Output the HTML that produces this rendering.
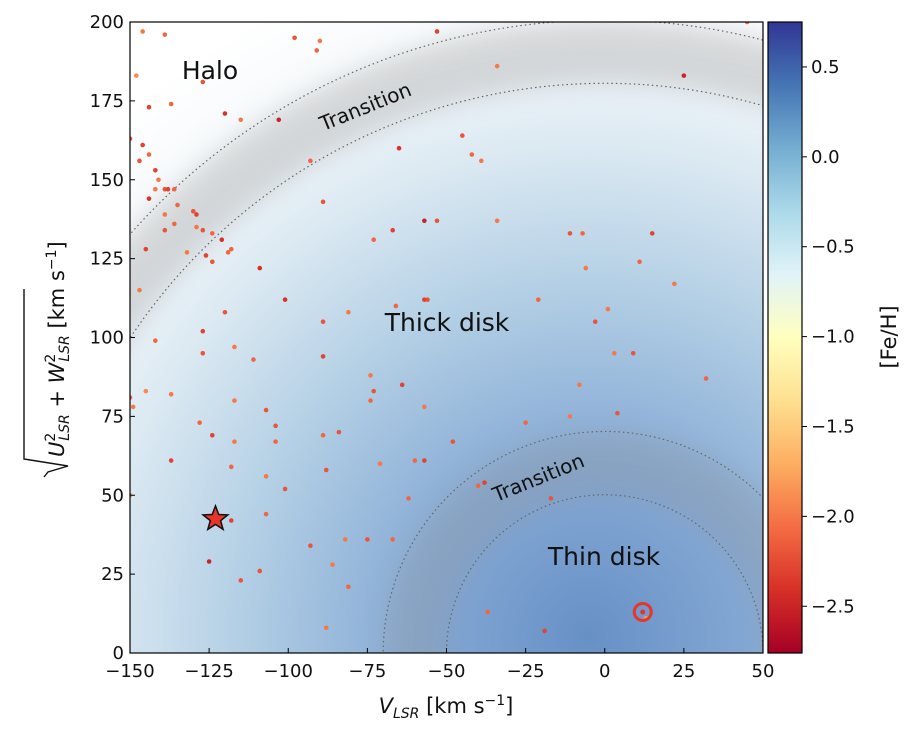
<!DOCTYPE html>
<html><head><meta charset="utf-8"><style>
html,body{margin:0;padding:0;background:#fff;width:916px;height:744px;overflow:hidden;}
svg{display:block;font-family:"DejaVu Sans","Liberation Sans",sans-serif;}
</style></head><body>
<svg id="chart" width="916" height="744" viewBox="0 0 916 744">
<defs>
 <clipPath id="plotclip"><rect x="130" y="22" width="633" height="631"/></clipPath>
 <radialGradient id="cloud" gradientUnits="userSpaceOnUse" cx="589" cy="637" r="700">
  <stop offset="0" stop-color="#6790c6"/>
  <stop offset="0.25" stop-color="#86aad5"/>
  <stop offset="0.5" stop-color="#b3cfe5"/>
  <stop offset="0.7" stop-color="#dbe9f2"/>
  <stop offset="0.85" stop-color="#f4f8fb"/>
  <stop offset="1" stop-color="#ffffff"/>
 </radialGradient>
 <linearGradient id="cbar" x1="0" y1="1" x2="0" y2="0">
  <stop offset="0" stop-color="#a50026"/>
  <stop offset="0.1" stop-color="#d73027"/>
  <stop offset="0.2" stop-color="#f46d43"/>
  <stop offset="0.3" stop-color="#fdae61"/>
  <stop offset="0.4" stop-color="#fee090"/>
  <stop offset="0.5" stop-color="#ffffbf"/>
  <stop offset="0.6" stop-color="#e0f3f8"/>
  <stop offset="0.7" stop-color="#abd9e9"/>
  <stop offset="0.8" stop-color="#74add1"/>
  <stop offset="0.9" stop-color="#4575b4"/>
  <stop offset="1" stop-color="#313695"/>
 </linearGradient>
 <filter id="blur" x="-20%" y="-20%" width="140%" height="140%"><feGaussianBlur stdDeviation="12"/></filter>
</defs>
<g id="plot" clip-path="url(#plotclip)"></g>
<g id="axes"></g>
</svg>
<script>
const xTicks=[-150,-125,-100,-75,-50,-25,0,25,50];
const yTicks=[0,25,50,75,100,125,150,175,200];
const cbTicks=[0.5,0.0,-0.5,-1.0,-1.5,-2.0,-2.5];
const cbLabels=["0.5","0.0","\u22120.5","\u22121.0","\u22121.5","\u22122.0","\u22122.5"];
const ringRadii=[50,70,180,200];
const ptV=[-146,-139,-98,-90,-53,-91,-34,-148,-127,-144,-137,-120,-115,-103,-45,-42,-39,-65,-93,-150,-146,-144,-147,-142,-141,-139,-138,-136,-142,-144,-135,-130,-129,-129,-127,-124,-121,-118,-132,-126,-124,-119,-139,-139,-136,-145,-147,-109,-89,-73,-67,-57,-53,-34,-7,-11,-6,15,11,22,-56,-57,-66,-89,-81,-21,-3,1,-101,-120,-142,-127,-117,-127,-111,-89,-74,-73,-74,-64,-57,-84,-89,-117,-107,-128,-124,-117,-104,-104,-145,-137,-150,-149,-137,-118,-88,-71,-60,-57,-48,-25,3,9,32,-8,4,-40,-38,-101,-107,-107,-93,-82,-75,-67,-118,-109,-81,-125,-62,-17,-19,-37,-88,-115,-86,45,25,13,-11,-150];
const ptY=[197,196,195,194,197,191,186,183,181,173,174,171,169,169,164,158,156,160,156,163,161,158,156,153,150,147,147,147,147,144,142,140,139,135,134,133,131,128,127,126,124,127,139,134,136,128,115,122,143,131,134,137,137,137,133,133,122,133,124,117,112,112,110,105,108,112,105,109,112,108,99,102,97,95,93,94,88,83,80,85,78,70,69,80,77,73,69,67,72,67,83,82,81,78,61,59,58,60,61,61,67,73,95,95,87,85,76,53,54,52,56,44,34,36,36,36,42,26,21,29,49,49,7,13,8,23,28,200,183,11,75,50];
const ptFe=[-2.0,-2.1,-2.2,-2.0,-2.3,-2.1,-2.0,-1.9,-2.2,-2.3,-2.1,-2.4,-2.0,-2.5,-2.2,-2.1,-2.0,-2.4,-2.1,-2.2,-2.3,-2.1,-2.2,-2.3,-2.0,-2.2,-2.3,-2.1,-2.0,-2.4,-2.1,-2.2,-2.3,-2.0,-2.2,-2.1,-2.4,-2.1,-2.0,-2.3,-2.2,-2.1,-2.0,-2.2,-2.1,-2.3,-2.0,-2.4,-2.2,-2.1,-2.3,-2.5,-2.2,-2.0,-2.1,-2.2,-2.0,-2.3,-2.1,-2.0,-2.2,-2.3,-2.1,-2.2,-2.0,-2.1,-2.2,-2.0,-2.4,-2.2,-2.1,-2.3,-2.0,-2.2,-2.1,-2.3,-2.0,-2.2,-2.1,-2.3,-2.0,-2.2,-2.1,-2.0,-2.2,-2.1,-2.3,-2.0,-2.2,-2.1,-1.9,-2.0,-2.1,-2.0,-2.3,-2.1,-2.2,-2.0,-2.1,-2.3,-2.2,-2.1,-2.0,-2.2,-2.1,-2.0,-2.2,-2.1,-2.3,-2.2,-2.0,-2.1,-2.2,-2.0,-2.2,-2.1,-2.3,-2.2,-2.1,-2.5,-2.1,-2.2,-2.3,-2.1,-2.0,-2.2,-2.0,-2.1,-2.5,-1.8,-2.0,-1.9];
const starV=-123, starY=42.5;
const sunV=12, sunY=13;

const X0=130,X1=763,Y0=653,Y1=22;
const sx=v=>X0+(v+150)/200*(X1-X0);
const sy=u=>Y0-u/200*(Y0-Y1);
const cbTop=22,cbBot=653,cbMax=0.75,cbMin=-2.76;
const cy=f=>cbBot-(f-cbMin)/(cbMax-cbMin)*(cbBot-cbTop);
const NS="http://www.w3.org/2000/svg";
function mk(tag,attrs,parent){const e=document.createElementNS(NS,tag);for(const k in attrs)e.setAttribute(k,attrs[k]);parent.appendChild(e);return e;}
const stops=[[-2.76,[165,0,38]],[-2.41,[215,48,39]],[-2.06,[244,109,67]],[-1.70,[253,174,97]],[-1.35,[254,224,144]],[-1.0,[255,255,191]],[-0.65,[224,243,248]],[-0.30,[171,217,233]],[0.05,[116,173,209]],[0.40,[69,117,180]],[0.75,[49,54,149]]];
function col(f){for(let i=0;i<stops.length-1;i++){const a=stops[i],b=stops[i+1];if(f<=b[0]){const t=Math.max(0,(f-a[0])/(b[0]-a[0]));const c=a[1].map((v,j)=>Math.round(v+(b[1][j]-v)*t));return `rgb(${c})`;}}return "rgb(49,54,149)";}

const plot=document.getElementById('plot');
const axes=document.getElementById('axes');
const bg=mk('rect',{x:X0,y:Y1,width:X1-X0,height:Y0-Y1,fill:'url(#cloud)'},plot);


const pxr=(X1-X0)/200;
const halo=mk('circle',{cx:sx(0),cy:sy(0),r:190*pxr,fill:'none',stroke:'#a8a8a8','stroke-width':20*pxr,opacity:0.4,filter:'url(#blur)'},plot);


const thin=mk('circle',{cx:sx(0),cy:sy(0),r:60*pxr,fill:'none',stroke:'#8f949c','stroke-width':20*pxr,opacity:0.32,filter:'url(#blur)'},plot);


ringRadii.forEach(r=>{const c=mk('circle',{cx:sx(0),cy:sy(0),r:r*pxr,fill:'none',stroke:'#666','stroke-width':1.2,'stroke-dasharray':'1.5 3'},plot);
 
 });
for(let i=0;i<ptV.length;i++){const c=mk('circle',{cx:sx(ptV[i]),cy:sy(ptY[i]),r:2.3,fill:col(ptFe[i])},plot);
 
 }
function txt(s,x,y,attrs,name){const t=mk('text',Object.assign({x:x,y:y,fill:'#111'},attrs),axes);t.textContent=s;return t;}
txt('Halo',210,79,{'font-size':25,'text-anchor':'middle'},'halo-label');
txt('Thick disk',447,331,{'font-size':25,'text-anchor':'middle'},'thick-disk-label');
txt('Thin disk',604,565,{'font-size':25,'text-anchor':'middle'},'thin-disk-label');
txt('Transition',368,113,{'font-size':20,'text-anchor':'middle',transform:'rotate(-22 368 113)'},'halo-transition-label');
txt('Transition',541,484,{'font-size':20,'text-anchor':'middle',transform:'rotate(-22 541 484)'},'disk-transition-label');
const R=13,cxs=sx(starV),cys=sy(starY);let pts=[];
for(let k=0;k<10;k++){const a=-Math.PI/2+k*Math.PI/5;const rr=k%2?R*0.42:R;pts.push((cxs+rr*Math.cos(a)).toFixed(1)+','+(cys+rr*Math.sin(a)).toFixed(1));}
const st=mk('polygon',{points:pts.join(' '),fill:'#e8352a',stroke:'#111','stroke-width':1.5},axes);


const sun=mk('circle',{cx:sx(sunV),cy:sy(sunY),r:8.5,fill:'none',stroke:'#e8352a','stroke-width':3},axes);


const sund=mk('circle',{cx:sx(sunV),cy:sy(sunY),r:2.5,fill:'#e8352a'},axes);


const fr=mk('rect',{x:X0,y:Y1,width:X1-X0,height:Y0-Y1,fill:'none',stroke:'#000','stroke-width':1.2},axes);


xTicks.forEach(v=>{const x=sx(v);
 const l=mk('line',{x1:x,x2:x,y1:Y0,y2:Y0-5,stroke:'#000','stroke-width':1},axes);
 
 
 txt(v<0?'\u2212'+(-v):String(v),x,Y0+24,{'font-size':18,'text-anchor':'middle'},'x-tick-label');});
yTicks.forEach(u=>{const y=sy(u);
 const l=mk('line',{x1:X0,x2:X0+5,y1:y,y2:y,stroke:'#000','stroke-width':1},axes);
 
 
 txt(String(u),X0-6,y+6,{'font-size':18,'text-anchor':'end'},'y-tick-label');});
const xl=mk('text',{x:446,y:713,'font-size':21,'text-anchor':'middle',fill:'#111'},axes);


xl.innerHTML='<tspan font-style="italic">V</tspan><tspan font-style="italic" font-size="14" dy="5">LSR</tspan><tspan dy="-5"> [km s</tspan><tspan font-size="14" dy="-8">\u22121</tspan><tspan dy="8">]</tspan>';
const yg=mk('g',{transform:'translate(54 337) rotate(-90)'},axes);


mk('path',{d:'M-140 -10 L-135 -6 L-129 14 L-122 -30 L48 -30',fill:'none',stroke:'#111','stroke-width':1.4},yg);
const yl=mk('text',{x:-120,y:10,'font-size':21,fill:'#111'},yg);
yl.innerHTML='<tspan font-style="italic">U</tspan><tspan font-size="14" dy="-9">2</tspan><tspan font-style="italic" font-size="14" dx="-8" dy="14">LSR</tspan><tspan dy="-5"> + </tspan><tspan font-style="italic">W</tspan><tspan font-size="14" dy="-9">2</tspan><tspan font-style="italic" font-size="14" dx="-8" dy="14">LSR</tspan><tspan dy="-5"> [km s</tspan><tspan font-size="14" dy="-8">\u22121</tspan><tspan dy="8">]</tspan>';
const cb=mk('rect',{x:768,y:cbTop,width:34,height:cbBot-cbTop,fill:'url(#cbar)',stroke:'#000','stroke-width':1.2},axes);


cbTicks.forEach((f,i)=>{const y=cy(f);
 const l=mk('line',{x1:802,x2:807,y1:y,y2:y,stroke:'#000','stroke-width':1},axes);
 
 
 txt(cbLabels[i],811,y+6,{'font-size':18},'colorbar-tick-label');});
txt('[Fe/H]',0,0,{'font-size':21,'text-anchor':'middle',transform:'translate(896 337) rotate(-90)'},'colorbar-title');
</script>
</body></html>
